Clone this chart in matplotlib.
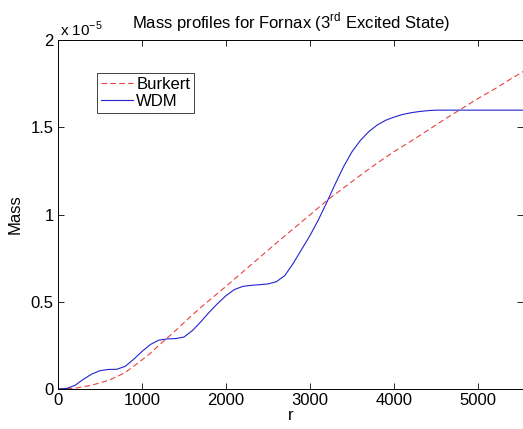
import matplotlib
matplotlib.use("Agg")
import matplotlib.pyplot as plt
from matplotlib.ticker import FuncFormatter

plt.rcParams['font.family'] = ['Liberation Sans', 'DejaVu Sans']

SCALE = 1e-5

r_wdm = [0, 100, 200, 300, 400, 500, 600, 700, 800, 900, 1000, 1100, 1200, 1300,
         1400, 1500, 1600, 1700, 1800, 1900, 2000, 2100, 2200, 2300, 2400, 2500,
         2600, 2700, 2800, 2900, 3000, 3100, 3200, 3300, 3400, 3500, 3600, 3700,
         3800, 3900, 4000, 4100, 4200, 4300, 4400, 4500, 4600, 4800, 5000, 5540]
m_wdm = [0.0, 0.003, 0.02, 0.055, 0.085, 0.105, 0.112, 0.113, 0.13, 0.17, 0.215,
         0.255, 0.28, 0.287, 0.289, 0.298, 0.335, 0.385, 0.44, 0.49, 0.535, 0.57,
         0.588, 0.594, 0.598, 0.602, 0.615, 0.65, 0.72, 0.80, 0.88, 0.97, 1.07,
         1.175, 1.275, 1.36, 1.425, 1.475, 1.513, 1.54, 1.558, 1.573, 1.583, 1.59,
         1.595, 1.598, 1.598, 1.598, 1.598, 1.598]

r_bur = [0, 200, 400, 500, 600, 700, 800, 900, 1000, 1100, 1200, 1300, 1400, 1500,
         1600, 1700, 1800, 1900, 2000, 2200, 2400, 2600, 2800, 3000, 3200, 3400,
         3600, 3800, 4000, 4200, 4400, 4600, 4800, 5000, 5200, 5400, 5540]
m_bur = [0.0, 0.004, 0.022, 0.035, 0.05, 0.07, 0.095, 0.13, 0.167, 0.205, 0.25,
         0.292, 0.335, 0.38, 0.425, 0.467, 0.508, 0.548, 0.588, 0.671, 0.754,
         0.837, 0.918, 0.998, 1.08, 1.153, 1.225, 1.295, 1.36, 1.42, 1.482, 1.545,
         1.605, 1.665, 1.72, 1.78, 1.82]

xticks = [0, 1000, 2000, 3000, 4000, 5000]
yticks = [0, 0.5, 1, 1.5, 2]

fig = plt.figure(figsize=(5.23, 4.29), dpi=100)
ax = fig.add_axes([58/523, 40/429, 465/523, 349/429])

ax.plot(r_bur, [v*SCALE for v in m_bur], '--', color='#e8413c', lw=0.8, label='Burkert',
        dashes=(5, 3))
ax.plot(r_wdm, [v*SCALE for v in m_wdm], '-', color='#2323d0', lw=0.8, label='WDM')

ax.set_xlim(0, 5535)
ax.set_ylim(0, 2*SCALE)
ax.set_xticks(xticks)
ax.set_yticks([v*SCALE for v in yticks])
ax.yaxis.set_major_formatter(FuncFormatter(lambda v, p: '%g' % round(v/SCALE, 6)))
ax.tick_params(direction='in', top=True, right=True, labelsize=12, length=4,
               width=0.6, pad=3)
for s in ax.spines.values():
    s.set_linewidth(0.7)

ax.set_xlabel('r', fontsize=12, labelpad=0)
ax.set_ylabel('Mass', fontsize=12, labelpad=6)
ax.set_title('Mass profiles for Fornax (3$^{\\mathregular{rd}}$ Excited State)',
             fontsize=12, pad=8)
ax.text(0.005, 1.004, 'x 10$^{\\mathregular{-5}}$', transform=ax.transAxes,
        fontsize=11, ha='left', va='bottom')

leg = ax.legend(loc='upper left', bbox_to_anchor=(0.084, 0.905), borderaxespad=0,
                fontsize=12, handlelength=1.9, handletextpad=0.2, borderpad=0.25,
                labelspacing=0.1, fancybox=False, framealpha=1)
leg.get_frame().set_edgecolor('#404040')
leg.get_frame().set_linewidth(0.7)

fig.savefig('out.png', dpi=100)
